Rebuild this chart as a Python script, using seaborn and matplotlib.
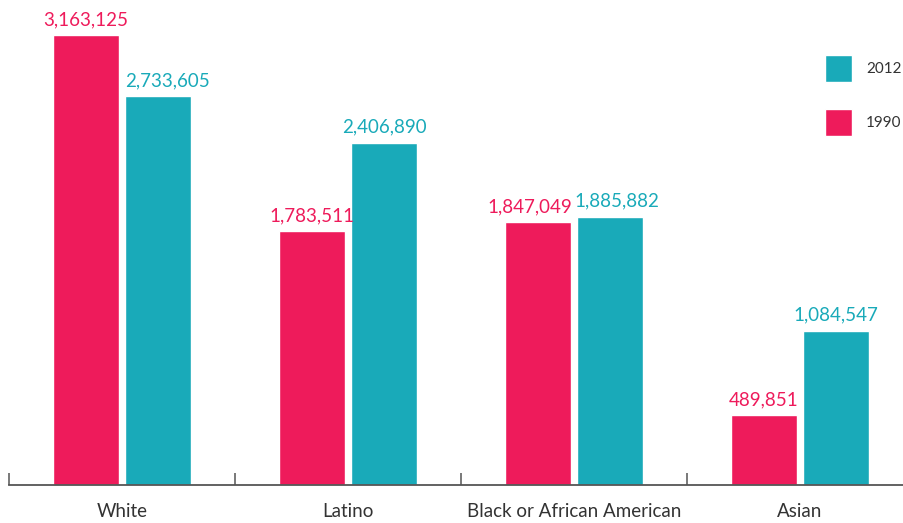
import pandas as pd
import matplotlib
matplotlib.use("Agg")
import matplotlib.pyplot as plt
import seaborn as sns
from matplotlib.patches import Patch
from matplotlib.ticker import FixedLocator

groups = ["White", "Latino", "Black or African American", "Asian"]
pop_1990 = [3163125, 1783511, 1847049, 489851]
pop_2012 = [2733605, 2406890, 1885882, 1084547]
years = ["1990", "2012"]

red = "#EE1B5B"
teal = "#19AAB9"

df = pd.DataFrame({
    "group": groups * 2,
    "year": ["1990"] * 4 + ["2012"] * 4,
    "pop": pop_1990 + pop_2012,
})

sns.set_style("white")
plt.rcParams["font.family"] = ["Lato", "DejaVu Sans"]

fig = plt.figure(figsize=(9.04, 5.23), dpi=100)
ax = fig.add_axes([9 / 904, 38 / 523, 904 / 904, 485 / 523])

sns.barplot(data=df, x="group", y="pop", hue="year", hue_order=years,
            palette=[red, teal], width=0.637, gap=0.083, saturation=1,
            legend=False, ax=ax)

# small sideways nudges (points) so neighbouring labels don't collide
nudge = {("1990", 2): -6, ("2012", 2): 5, ("2012", 0): 7}
for cont, col, yr in zip(ax.containers, [red, teal], years):
    anns = ax.bar_label(cont, labels=[f"{int(v):,}" for v in cont.datavalues],
                        color=col, fontsize=13.5, padding=5)
    for i, a in enumerate(anns):
        a.xyann = (nudge.get((yr, i), 0), 5)

ax.set_xlim(-0.5, 3.5)
ax.set_ylim(0, 3409000)
ax.set_xlabel("")
ax.set_ylabel("")
ax.set_yticks([])
for s in ["left", "right", "top"]:
    ax.spines[s].set_visible(False)
ax.spines["bottom"].set_color("#555555")
ax.spines["bottom"].set_linewidth(1.3)

ax.xaxis.set_minor_locator(FixedLocator([-0.5, 0.5, 1.5, 2.5, 3.5]))
ax.tick_params(axis="x", which="minor", bottom=True, direction="in",
               length=9, width=1.1, color="#555555")
ax.tick_params(axis="x", which="major", bottom=True, length=0, pad=13,
               labelsize=13.5, labelcolor="#333333")

handles = [Patch(facecolor=teal, label="2012"), Patch(facecolor=red, label="1990")]
leg = ax.legend(handles=handles, loc="upper left",
                bbox_to_anchor=(817 / 904, 1 - 47 / 523),
                bbox_transform=fig.transFigure, frameon=False,
                fontsize=11, handlelength=1.77, handleheight=2.34,
                labelspacing=1.8, handletextpad=0.95, borderpad=0)
for t in leg.get_texts():
    t.set_color("#333333")

fig.savefig("out.png", dpi=100)
